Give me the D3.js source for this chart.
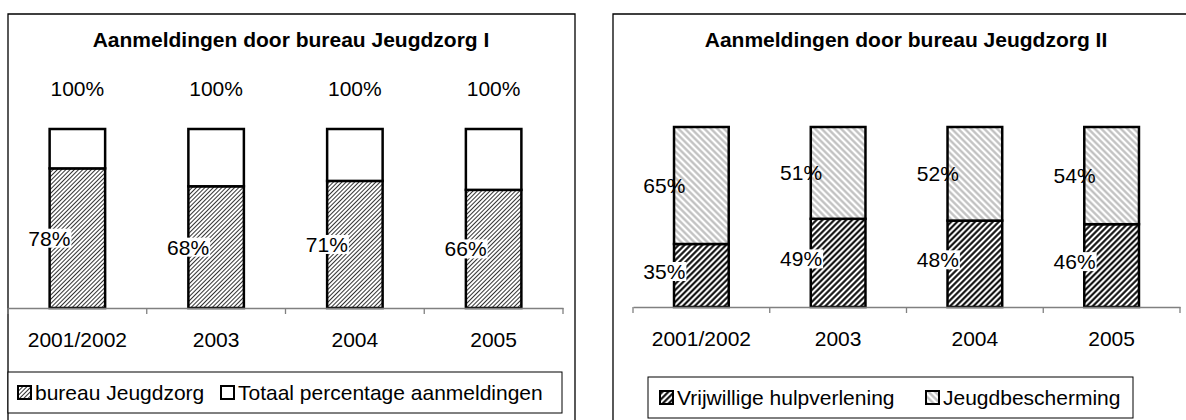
<!DOCTYPE html>
<html>
<head>
<meta charset="utf-8">
<script src="https://cdn.jsdelivr.net/npm/d3@7"></script>
<style>
  body { margin: 0; background: #fff; }
  svg { display: block; font-family: Arial, "Liberation Sans", sans-serif; }
</style>
</head>
<body>
<svg id="graf" width="1186" height="420"></svg>
<script>
let categories = ['2001/2002', '2003', '2004', '2005']
let jeugdzorg = [78, 68, 71, 66]
let totaal = [100, 100, 100, 100]
let vrijwillig = [35, 49, 48, 46]
let bescherming = [65, 51, 52, 54]

let svg = d3.select('#graf')
let defs = svg.append('defs')

function hatch(id, angle, gap, color, sw) {
  let p = defs.append('pattern')
    .attr('id', id)
    .attr('patternUnits', 'userSpaceOnUse')
    .attr('width', gap).attr('height', gap)
    .attr('patternTransform', `rotate(${angle})`)
  p.append('rect').attr('width', gap).attr('height', gap).attr('fill', '#fff')
  if (color) {
    p.append('line')
      .attr('x1', gap / 2).attr('y1', 0).attr('x2', gap / 2).attr('y2', gap)
      .attr('stroke', color).attr('stroke-width', sw)
  }
}
hatch('licht', 45, 3, '#333', 1)
hatch('donker', 45, 4.2, '#000', 2)
hatch('grijs', -45, 4.6, '#bdbdbd', 2.2)
hatch('wit', 0, 4, null, 0)

// frames
svg.append('path').attr('d', 'M8,420 V14 H575 V420')
  .attr('fill', 'none').attr('stroke', '#000').attr('stroke-width', 1.3)
svg.append('path').attr('d', 'M613,420 V14 H1186')
  .attr('fill', 'none').attr('stroke', '#000').attr('stroke-width', 1.3)

function grafiek(opt) {
  let g = svg.append('g')
  let x = d3.scaleBand().domain(categories).range([opt.x0, opt.x1]).paddingInner(0).paddingOuter(0)
  let y = d3.scaleLinear().domain([0, 100]).range([opt.y0, opt.yTop])
  let bw = x.bandwidth() * 0.4

  g.append('text')
    .attr('x', opt.titleX).attr('y', 47)
    .attr('text-anchor', 'middle')
    .attr('font-weight', 'bold').attr('font-size', 21)
    .text(opt.title)

  // gestapelde delen
  opt.series.forEach(s => {
    g.selectAll(null)
      .data(categories)
      .enter().append('rect')
      .attr('x', d => x(d) + x.bandwidth() / 2 - bw / 2)
      .attr('width', bw)
      .attr('y', (d, i) => y(s.top(i)))
      .attr('height', (d, i) => y(s.bottom(i)) - y(s.top(i)))
      .attr('fill', `url(#${s.pat})`)
      .attr('stroke', '#000').attr('stroke-width', 2.5)
  })

  // as
  let axis = d3.axisBottom(x).tickSize(0).tickSizeOuter(0).tickFormat('')
  let ax = g.append('g').attr('transform', `translate(0,${opt.y0})`).call(axis)
  ax.select('.domain').attr('stroke', '#808080').attr('stroke-width', 1.3)
  let edges = categories.map(c => x(c)).concat([opt.x1])
  g.selectAll(null).data(edges).enter().append('line')
    .attr('x1', d => d).attr('x2', d => d)
    .attr('y1', opt.y0).attr('y2', opt.y0 + 6)
    .attr('stroke', '#808080').attr('stroke-width', 1.3)
  g.selectAll(null).data(categories).enter().append('text')
    .attr('x', d => x(d) + x.bandwidth() / 2)
    .attr('y', opt.y0 + 31)
    .attr('text-anchor', 'middle').attr('dominant-baseline', 'central').attr('font-size', 21)
    .text(d => d)

  // labels
  opt.labels.forEach(l => {
    categories.forEach((c, i) => {
      let lx = x(c) + x.bandwidth() / 2 + l.dx
      let ly = l.y(i, y)
      let t = g.append('text')
        .attr('x', lx).attr('y', ly)
        .attr('text-anchor', 'middle').attr('dominant-baseline', 'central')
        .attr('font-size', 21)
        .text(l.vals[i] + '%')
      if (l.box) {
        let b = t.node().getBBox()
        g.insert('rect', () => t.node())
          .attr('x', b.x - 1).attr('y', b.y + 2)
          .attr('width', b.width + 2).attr('height', b.height - 4)
          .attr('fill', '#fff')
      }
    })
  })

  // legenda
  let lg = g.append('g')
  lg.append('rect')
    .attr('x', opt.leg.x).attr('y', opt.leg.y)
    .attr('width', opt.leg.w).attr('height', opt.leg.h)
    .attr('fill', '#fff').attr('stroke', '#000').attr('stroke-width', 1)
  opt.leg.items.forEach(it => {
    let cy = opt.leg.y + opt.leg.h / 2
    lg.append('rect')
      .attr('x', it.x).attr('y', cy - 6.5).attr('width', 13).attr('height', 13)
      .attr('fill', `url(#${it.pat})`).attr('stroke', '#000').attr('stroke-width', 2)
    lg.append('text')
      .attr('x', it.x + 17).attr('y', cy)
      .attr('dominant-baseline', 'central').attr('font-size', 21)
      .text(it.name)
  })
}

grafiek({
  title: 'Aanmeldingen door bureau Jeugdzorg I',
  titleX: 291,
  x0: 8, x1: 563, y0: 308, yTop: 129,
  series: [
    { pat: 'licht', bottom: i => 0, top: i => jeugdzorg[i] },
    { pat: 'wit', bottom: i => jeugdzorg[i], top: i => totaal[i] }
  ],
  labels: [
    { vals: jeugdzorg, dx: -28, box: true, y: (i, y) => (y(0) + y(jeugdzorg[i])) / 2 },
    { vals: totaal, dx: 0, box: false, y: (i, y) => y(totaal[i]) - 41 }
  ],
  leg: {
    x: 8, y: 372, w: 554, h: 41,
    items: [
      { pat: 'licht', name: 'bureau Jeugdzorg', x: 18 },
      { pat: 'wit', name: 'Totaal percentage aanmeldingen', x: 221 }
    ]
  }
})

grafiek({
  title: 'Aanmeldingen door bureau Jeugdzorg II',
  titleX: 906,
  x0: 633, x1: 1180, y0: 307, yTop: 127,
  series: [
    { pat: 'donker', bottom: i => 0, top: i => vrijwillig[i] },
    { pat: 'grijs', bottom: i => vrijwillig[i], top: i => vrijwillig[i] + bescherming[i] }
  ],
  labels: [
    { vals: vrijwillig, dx: -37, box: true, y: (i, y) => (y(0) + y(vrijwillig[i])) / 2 - 4 },
    { vals: bescherming, dx: -37, box: false, y: (i, y) => (y(vrijwillig[i]) + y(vrijwillig[i] + bescherming[i])) / 2 }
  ],
  leg: {
    x: 648, y: 377, w: 485, h: 41,
    items: [
      { pat: 'donker', name: 'Vrijwillige hulpverlening', x: 660 },
      { pat: 'grijs', name: 'Jeugdbescherming', x: 926 }
    ]
  }
})
</script>
</body>
</html>
